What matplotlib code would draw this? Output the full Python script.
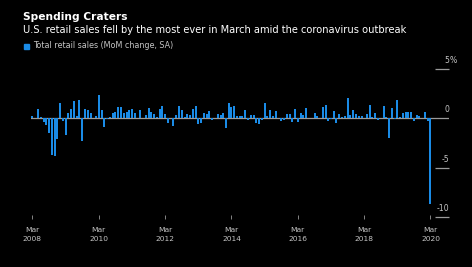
import matplotlib
matplotlib.use('Agg')
import matplotlib.pyplot as plt
import pandas as pd

# US retail sales, MoM % change, SA (Mar 2008 - Mar 2020)
vals_2008 = [0.25, 0.05, 0.94, 0.12, -0.33, -0.64, -1.45, -3.72, -3.84, -2.05]
vals_2009 = [1.53, -0.32, -1.65, 0.57, 0.94, 1.75, 0.25, 1.83, -2.33, 0.94, 0.86, 0.55]
vals_2010 = [0.05, 0.24, 2.38, 0.84, -0.85, -0.05, 0.1, 0.54, 0.67, 1.18, 1.1, 0.54]
vals_2011 = [0.67, 0.84, 0.9, 0.57, 0.0, 0.84, 0.05, 0.3, 1.0, 0.64, 0.44, 0.1]
vals_2012 = [0.9, 1.2, 0.46, -0.45, 0.0, -0.77, 0.38, 1.22, 0.86, 0.17, 0.46, 0.36]
vals_2013 = [0.94, 1.22, -0.6, -0.44, 0.54, 0.4, 0.75, -0.15, 0.02, 0.47, 0.35, 0.57]
vals_2014 = [-0.95, 1.5, 1.1, 1.2, 0.27, 0.27, 0.27, 0.88, -0.15, 0.35, 0.35, -0.45]
vals_2015 = [-0.55, -0.15, 1.5, 0.27, 0.88, 0.27, 0.75, 0.02, -0.27, -0.15, 0.47, 0.47]
vals_2016 = [-0.42, 0.95, -0.33, 0.56, 0.36, 1.05, 0.02, 0.05, 0.52, 0.27, 0.05, 1.12]
vals_2017 = [1.35, -0.24, -0.12, 0.72, -0.44, 0.44, 0.15, 0.24, 2.05, 0.32, 0.84, 0.44]
vals_2018 = [0.24, 0.24, 0.05, 0.44, 1.32, 0.1, 0.55, -0.13, 0.05, 1.22, 0.1, -1.95]
vals_2019 = [1.0, -0.05, 1.82, 0.1, 0.55, 0.6, 0.67, 0.64, -0.3, 0.3, 0.24, 0.05]
vals_2020 = [0.64, -0.3, -8.66]

values = (vals_2008 + vals_2009 + vals_2010 + vals_2011 + vals_2012 + vals_2013 + vals_2014
          + vals_2015 + vals_2016 + vals_2017 + vals_2018 + vals_2019 + vals_2020)
months = pd.date_range('2008-03-01', periods=len(values), freq='MS')

tick_years = [2008, 2010, 2012, 2014, 2016, 2018, 2020]
y_levels = [5, 0, -5, -10]
y_labels = ['5', '0', '-5', '-10']

bg = '#000000'
blue = '#1a8be6'
grey = '#9a9a9a'
txt_grey = '#c4c4c4'

fig = plt.figure(figsize=(4.72, 2.67), dpi=100, facecolor=bg)
ax = fig.add_axes([31 / 472, 1 - 217.3 / 267, 418 / 472, (217.3 - 68.8) / 267])
ax.set_facecolor(bg)

ax.bar(months, values, width=22, color=blue, linewidth=0, antialiased=False, zorder=3)

ax.set_xlim(pd.Timestamp('2008-02-14'), pd.Timestamp('2020-09-21'))
ax.set_ylim(-10, 5)

# zero line + short label rules at the right
ax.axhline(0, color=grey, lw=0.9, zorder=2)
right_start = pd.Timestamp('2020-04-15')
for lv, lab in zip(y_levels, y_labels):
    if lv != 0:
        ax.hlines(lv, right_start, ax.get_xlim()[1], color=grey, lw=0.9, clip_on=False)
    ax.annotate(lab, xy=(1, lv), xycoords=('axes fraction', 'data'),
                xytext=(0.5, 3), textcoords='offset points',
                ha='right', va='bottom', color=txt_grey, fontsize=5.6)
ax.annotate('%', xy=(1, y_levels[0]), xycoords=('axes fraction', 'data'),
            xytext=(0.6, 3), textcoords='offset points',
            ha='left', va='bottom', color=txt_grey, fontsize=5.6)

for s in ax.spines.values():
    s.set_visible(False)
ax.set_yticks([])

ax.set_xticks([pd.Timestamp(f'{y}-03-01') for y in tick_years])
ax.set_xticklabels([f'Mar\n{y}' for y in tick_years])
ax.tick_params(axis='x', colors=grey, length=2.5, width=0.6, pad=5.5,
               labelsize=5.4, labelcolor=txt_grey, direction='inout')
for t in ax.get_xticklabels():
    t.set_linespacing(1.75)

# title block
fig.text(22.7 / 472, 1 - 20 / 267, 'Spending Craters', color='white',
         fontsize=7.7, fontweight='bold', va='baseline')
fig.text(22.7 / 472, 1 - 33 / 267,
         'U.S. retail sales fell by the most ever in March amid the coronavirus outbreak',
         color='white', fontsize=7.15, va='baseline')
fig.patches.append(plt.Rectangle((24 / 472, 1 - 48.5 / 267), 4.6 / 472, 4.6 / 267,
                                 transform=fig.transFigure, color=blue, figure=fig))
fig.text(33 / 472, 1 - 48.5 / 267, 'Total retail sales (MoM change, SA)',
         color=txt_grey, fontsize=5.75, va='baseline')

fig.savefig('out.png', dpi=100, facecolor=bg)
